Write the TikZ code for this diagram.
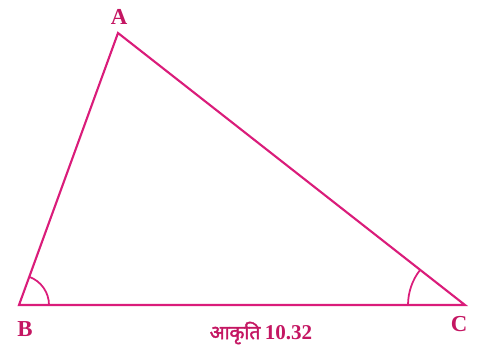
\documentclass[tikz,border=0pt]{standalone}
\usepackage{fontspec}
\setmainfont{Liberation Serif}
\newfontfamily\devfont[Script=Devanagari,FakeBold=2]{Noto Sans}
\usetikzlibrary{angles}
\definecolor{trimag}{RGB}{218,28,122}
\definecolor{capmag}{RGB}{196,22,98}

\begin{document}
\begin{tikzpicture}[x=0.02cm,y=0.02cm]
\tikzset{
  side/.style={trimag, line width=1.2pt, line join=miter},
  vlabel/.style={capmag, font=\fontsize{13}{15}\selectfont\bfseries, inner sep=0pt}
}
\useasboundingbox (0,0) rectangle (482,360);
% vertices
\coordinate (A) at (118,327);
\coordinate (B) at (19,55);
\coordinate (C) at (465,55);
% triangle
\draw[side] (A) -- (B) -- (C) -- cycle;
% angle marks
\pic[draw=trimag, line width=1pt, angle radius=0.6cm] {angle=C--B--A};
\pic[draw=trimag, line width=1pt, angle radius=1.14cm] {angle=A--C--B};
% labels
\node[vlabel] (la) at (119,343) {A};
\node[vlabel] (lb) at (25,31) {B};
\node[vlabel] (lc) at (459,36) {C};
\node[capmag, inner sep=0pt] (cap) at (261,27)
  {{\devfont\fontsize{11}{13}\selectfont आकृति} {\fontsize{12}{14}\selectfont\bfseries 10.32}};
\end{tikzpicture}
\end{document}
